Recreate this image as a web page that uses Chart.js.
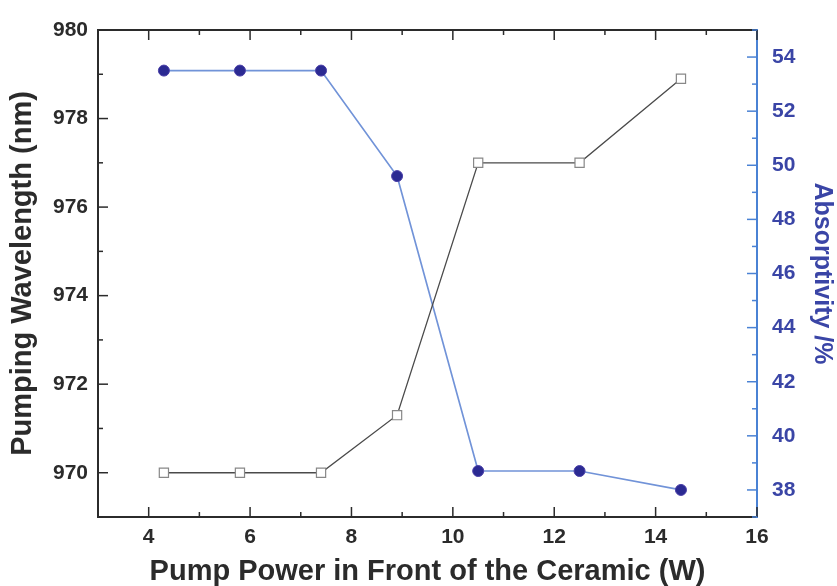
<!DOCTYPE html>
<html>
<head>
<meta charset="utf-8">
<script src="https://cdn.jsdelivr.net/npm/chart.js@4.4.1/dist/chart.umd.min.js"></script>
<style>
  html, body { margin: 0; padding: 0; background: #fff; }
  #wrap { width: 837px; height: 586px; }
</style>
</head>
<body>
<div id="wrap"><canvas id="pumpChart"></canvas></div>
<script>
// pump power (W) and the two measured quantities
const pumpPower = [4.3, 5.8, 7.4, 8.9, 10.5, 12.5, 14.5];
const wavelength = [970.0, 970.0, 970.0, 971.3, 977.0, 977.0, 978.9];
const absorptivity = [53.5, 53.5, 53.5, 49.6, 38.7, 38.7, 38.0];

// labelled ticks
const powerTicks = [4, 6, 8, 10, 12, 14, 16];
const wavelengthTicks = [970, 972, 974, 976, 978, 980];
const absorptivityTicks = [38, 40, 42, 44, 46, 48, 50, 52, 54];

const FONT = "'Liberation Sans', Arial, sans-serif";
const INK = '#2b2b2b';
const BLUE_AXIS = '#4a82d4';
const BLUE_TEXT = '#3a45a6';

// origin-style ticks pointing into the plot, major on even values, minor on odd
const innerTicks = {
  id: 'innerTicks',
  afterDraw(chart) {
    const { ctx, chartArea: a, scales } = chart;
    ctx.save();
    ctx.strokeStyle = INK;
    ctx.lineWidth = 2;
    ctx.beginPath();
    ctx.moveTo(a.left, a.top);
    ctx.lineTo(a.right, a.top);
    ctx.stroke();

    ctx.lineWidth = 1.5;
    const x = scales.x;
    for (let v = Math.ceil(x.min); v <= x.max; v++) {
      const px = x.getPixelForValue(v);
      const len = v % 2 === 0 ? 10 : 5;
      ctx.beginPath();
      ctx.moveTo(px, a.bottom);
      ctx.lineTo(px, a.bottom - len);
      ctx.moveTo(px, a.top);
      ctx.lineTo(px, a.top + len);
      ctx.stroke();
    }
    const y = scales.y;
    for (let v = Math.ceil(y.min); v <= y.max; v++) {
      const py = y.getPixelForValue(v);
      const len = v % 2 === 0 ? 10 : 5;
      ctx.beginPath();
      ctx.moveTo(a.left, py);
      ctx.lineTo(a.left + len, py);
      ctx.stroke();
    }
    const y1 = scales.y1;
    ctx.strokeStyle = BLUE_AXIS;
    for (let v = Math.ceil(y1.min); v <= y1.max; v++) {
      const py = y1.getPixelForValue(v);
      const len = v % 2 === 0 ? 10 : 5;
      ctx.beginPath();
      ctx.moveTo(a.right, py);
      ctx.lineTo(a.right - len, py);
      ctx.stroke();
    }
    ctx.restore();
  }
};

const fixTicks = values => scale => {
  scale.ticks = values.map(v => ({ value: v }));
};

const hiddenGrid = { display: true, drawOnChartArea: false, drawTicks: false, color: 'rgba(0,0,0,0)' };

new Chart(document.getElementById('pumpChart'), {
  type: 'line',
  data: {
    datasets: [
      {
        label: 'Pumping Wavelength',
        data: pumpPower.map((p, i) => ({ x: p, y: wavelength[i] })),
        yAxisID: 'y',
        borderColor: '#4a4a4a',
        borderWidth: 1.3,
        pointStyle: 'rect',
        pointRadius: 6.5,
        pointBackgroundColor: '#fff',
        pointBorderColor: '#888',
        pointBorderWidth: 1.2
      },
      {
        label: 'Absorptivity',
        data: pumpPower.map((p, i) => ({ x: p, y: absorptivity[i] })),
        yAxisID: 'y1',
        borderColor: '#7193d8',
        borderWidth: 1.7,
        pointStyle: 'circle',
        pointRadius: 5.5,
        pointBackgroundColor: '#2b2a92',
        pointBorderColor: '#4a3fa8',
        pointBorderWidth: 1
      }
    ]
  },
  options: {
    responsive: true,
    maintainAspectRatio: false,
    animation: false,
    layout: { padding: { top: 30, left: 0, right: 0, bottom: 0 } },
    plugins: { legend: { display: false }, tooltip: { enabled: false } },
    scales: {
      x: {
        type: 'linear',
        min: 3,
        max: 16,
        afterBuildTicks: fixTicks(powerTicks),
        afterFit: s => { s.height = 69; },
        grid: hiddenGrid,
        border: { display: true, color: INK, width: 2 },
        ticks: { autoSkip: false, padding: 8, color: INK, font: { family: FONT, size: 21, weight: 'bold' } },
        title: {
          display: true,
          text: 'Pump Power in Front of the Ceramic (W)',
          color: INK,
          font: { family: FONT, size: 29, weight: 'bold', lineHeight: 1 },
          padding: { top: 0, bottom: 0 }
        }
      },
      y: {
        type: 'linear',
        position: 'left',
        min: 969,
        max: 980,
        afterBuildTicks: fixTicks(wavelengthTicks),
        afterFit: s => { s.width = 98; },
        grid: hiddenGrid,
        border: { display: true, color: INK, width: 2 },
        ticks: { autoSkip: false, padding: 10, color: INK, font: { family: FONT, size: 21, weight: 'bold' } },
        title: {
          display: true,
          text: 'Pumping Wavelength (nm)',
          color: INK,
          font: { family: FONT, size: 29, weight: 'bold', lineHeight: 1 },
          padding: { top: 8, bottom: 0 }
        }
      },
      y1: {
        type: 'linear',
        position: 'right',
        min: 37,
        max: 55,
        afterBuildTicks: fixTicks(absorptivityTicks),
        afterFit: s => { s.width = 80; },
        grid: hiddenGrid,
        border: { display: true, color: BLUE_AXIS, width: 2 },
        ticks: { autoSkip: false, padding: 15, color: BLUE_TEXT, font: { family: FONT, size: 21, weight: 'bold' } },
        title: {
          display: true,
          text: 'Absorptivity /%',
          color: BLUE_TEXT,
          font: { family: FONT, size: 25, weight: 'bold', lineHeight: 1 },
          padding: { top: 3, bottom: 0 }
        }
      }
    }
  },
  plugins: [innerTicks]
});
</script>
</body>
</html>
